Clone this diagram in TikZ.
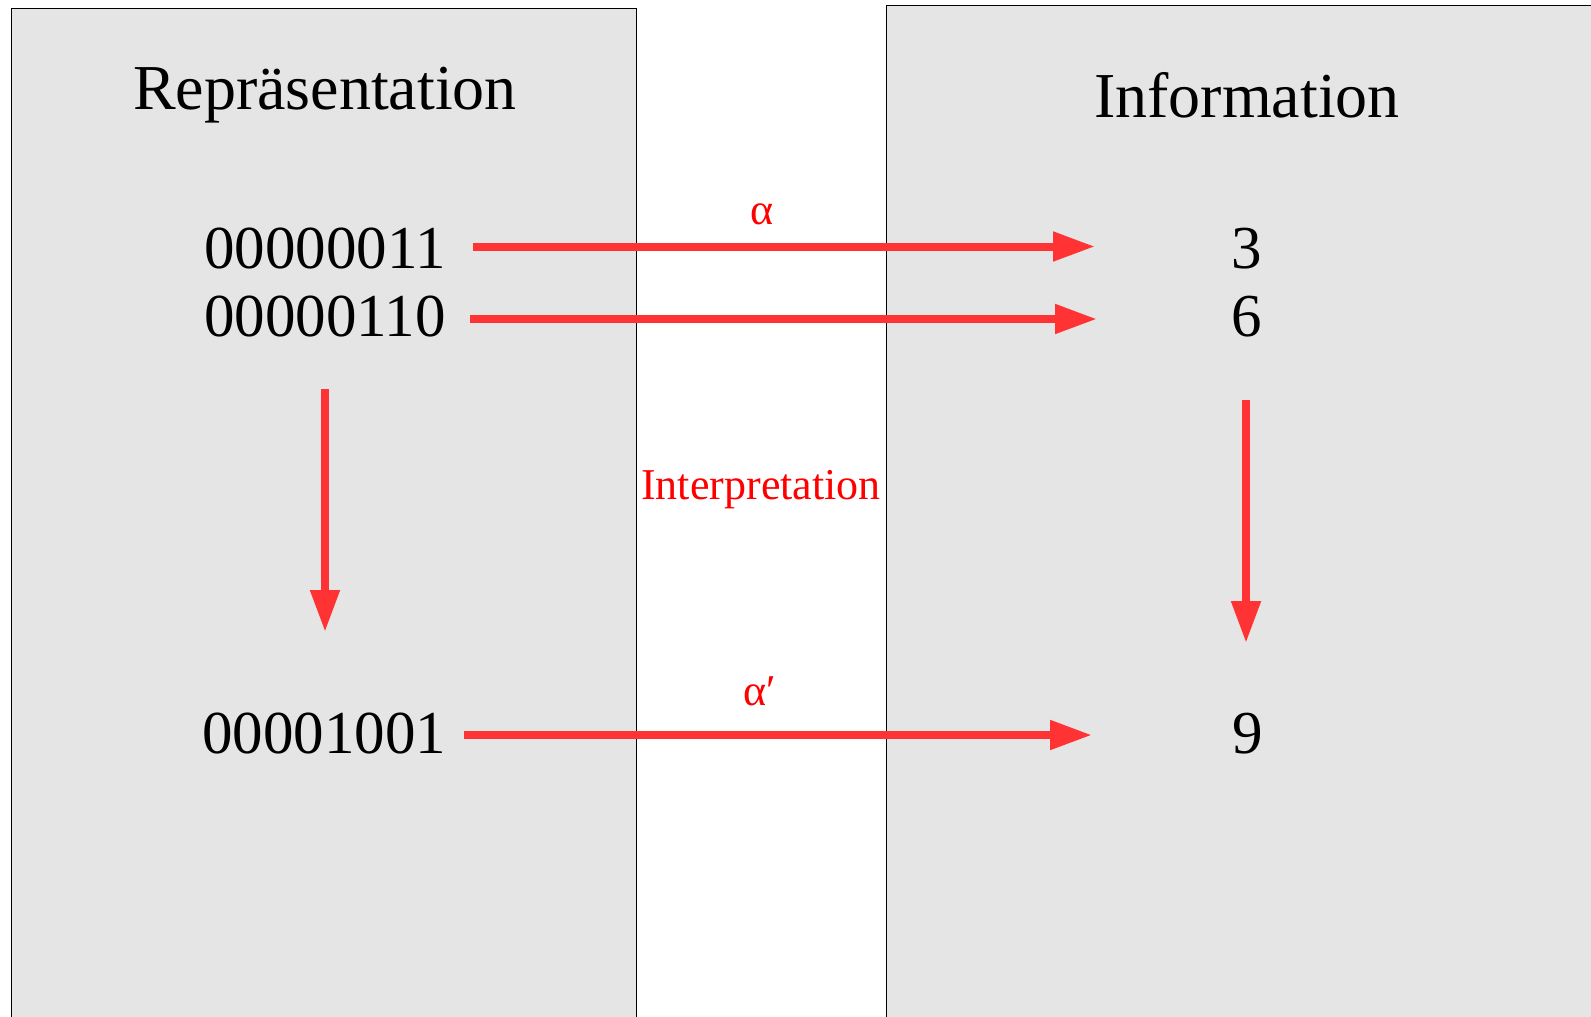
\documentclass[tikz,border=0pt]{standalone}
\usepackage{fontspec}
\setmainfont{Liberation Serif}
\usetikzlibrary{arrows.meta}
\definecolor{boxgray}{HTML}{E5E5E5}
\definecolor{arrred}{HTML}{FF3333}
\tikzset{
  panel/.style={fill=boxgray, draw=black, line width=1pt},
  title/.style={anchor=base, inner sep=0pt, font=\fontsize{64}{64}\selectfont},
  value/.style={anchor=base, inner sep=0pt, font=\fontsize{61}{61}\selectfont},
  redlabel/.style={inner sep=0pt, text=red, font=\fontsize{44}{44}\selectfont},
  redarrow/.style={draw=arrred, line width=8pt, -{Triangle[length=42pt,width=28pt]}}
}
\begin{document}
\begin{tikzpicture}[x=1pt,y=-1pt]
\useasboundingbox (0,0) rectangle (1591,1017);
\clip (0,0) rectangle (1591,1017);
\fill[white] (0,0) rectangle (1591,1017);
% panels
\draw[panel] (11,8) rectangle (636,1040);
\draw[panel] (886,5) rectangle (1620,1040);
% titles
\node[title] (rep) at (325,109) {Repräsentation};
\node[title] (inf) at (1247,117) {Information};
% values
\node[value] (b3) at (325,268) {00000011};
\node[value] (b6) at (325,336) {00000110};
\node[value] (b9) at (324,753) {00001001};
\node[value] (d3) at (1247,268) {3};
\node[value] (d6) at (1247,336) {6};
\node[value] (d9) at (1248,753) {9};
% labels
\node[redlabel] (alpha) at (762,214) {α};
\node[redlabel] (alphap) at (760,691) {α′};
\node[redlabel] (interp) at (761,490) {Interpretation};
% connector endpoints
\coordinate (s1) at (473,246.5);
\coordinate (e1) at (1095,246.5);
\coordinate (s2) at (470,319);
\coordinate (e2) at (1097,319);
\coordinate (s3) at (464,735);
\coordinate (e3) at (1092,735);
\coordinate (s4) at (325,389);
\coordinate (e4) at (325,632);
\coordinate (s5) at (1246,400);
\coordinate (e5) at (1246,643);
% connectors
\draw[redarrow] (s1) -- (e1);
\draw[redarrow] (s2) -- (e2);
\draw[redarrow] (s3) -- (e3);
\draw[redarrow] (s4) -- (e4);
\draw[redarrow] (s5) -- (e5);
\end{tikzpicture}
\end{document}
